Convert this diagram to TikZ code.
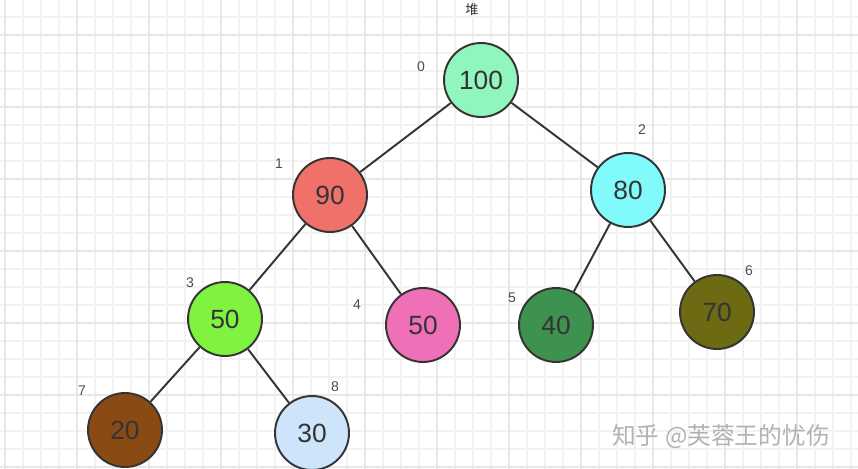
\documentclass[tikz,border=0pt]{standalone}
\usepackage{fontspec}
\setmainfont{Liberation Sans}
\newfontfamily\cjkfont{Noto Sans CJK SC}
\definecolor{mint}{RGB}{145,246,190}
\definecolor{salmon}{RGB}{240,112,106}
\definecolor{aqua}{RGB}{128,250,250}
\definecolor{lime}{RGB}{128,242,64}
\definecolor{rose}{RGB}{240,112,184}
\definecolor{forest}{RGB}{62,146,80}
\definecolor{olive}{RGB}{108,106,18}
\definecolor{rust}{RGB}{138,74,20}
\definecolor{sky}{RGB}{206,228,250}
\definecolor{ink}{RGB}{52,52,52}

\begin{document}
\begin{tikzpicture}%
        [x=0.02cm,
        y=-0.02cm,
        gridminor/.style={color=black!5, line width=0.6pt},
        gridmajor/.style={color=black!9, line width=0.7pt},
        edge/.style={color=ink, line width=1.1pt},
        heap/.style={circle, draw=ink, line width=1.1pt, inner sep=0pt,
                     minimum size=1.48cm, text=ink, font=\fontsize{15}{18}\selectfont},
        index/.style={text=black!70, font=\fontsize{8}{10}\selectfont}]

    %% Drawing the paper
    \useasboundingbox (0,0) rectangle (858,469);
    \fill[white] (0,0) rectangle (858,469);
    \foreach \gx in {5,23,...,857} \draw[gridminor] (\gx,0) -- (\gx,469);
    \foreach \gy in {17,35,...,469} \draw[gridminor] (0,\gy) -- (858,\gy);
    \foreach \gx in {5,77,...,857} \draw[gridmajor] (\gx,0) -- (\gx,469);
    \foreach \gy in {35,107,...,469} \draw[gridmajor] (0,\gy) -- (858,\gy);

    \node[text=ink, font=\cjkfont\fontsize{7.5}{9}\selectfont] (title) at (472,10) {堆};

    %%
    %% Drawing the nodes
    %%
    \node[heap, fill=mint]   (n0) at (481,80)  {100};
    \node[heap, fill=salmon] (n1) at (330,195) {90};
    \node[heap, fill=aqua]   (n2) at (628,190) {80};
    \node[heap, fill=lime]   (n3) at (225,319) {50};
    \node[heap, fill=rose]   (n4) at (423,325) {50};
    \node[heap, fill=forest] (n5) at (556,325) {40};
    \node[heap, fill=olive]  (n6) at (717,312) {70};
    \node[heap, fill=rust]   (n7) at (125,430) {20};
    \node[heap, fill=sky]    (n8) at (312,433) {30};

    %%
    %% Drawing the indices
    %%
    \node[index] (i0) at (421,67)  {0};
    \node[index] (i1) at (279,164) {1};
    \node[index] (i2) at (642,130) {2};
    \node[index] (i3) at (190,283) {3};
    \node[index] (i4) at (357,305) {4};
    \node[index] (i5) at (512,298) {5};
    \node[index] (i6) at (749,271) {6};
    \node[index] (i7) at (82,391)  {7};
    \node[index] (i8) at (335,387) {8};

    %%
    %% Drawing the edges
    %%
    \draw[edge] (n0) -- (n1);
    \draw[edge] (n0) -- (n2);
    \draw[edge] (n1) -- (n3);
    \draw[edge] (n1) -- (n4);
    \draw[edge] (n2) -- (n5);
    \draw[edge] (n2) -- (n6);
    \draw[edge] (n3) -- (n7);
    \draw[edge] (n3) -- (n8);

    \node[text=black!30, font=\cjkfont\fontsize{13.5}{16}\selectfont] (mark) at (721,437) {知乎 @芙蓉王的忧伤};
\end{tikzpicture}
\end{document}
